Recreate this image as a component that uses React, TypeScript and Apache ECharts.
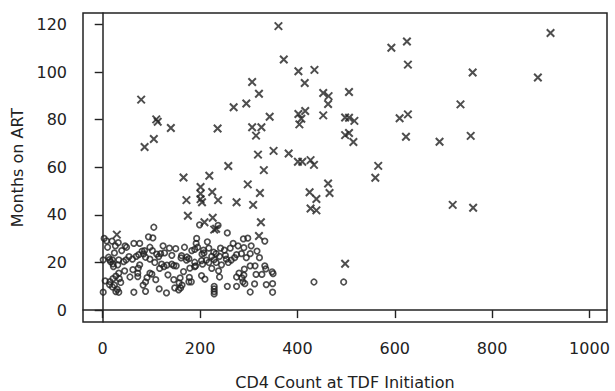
import React, { useEffect, useRef } from "react";
import * as echarts from "echarts";

// Patients with TDF-associated outcome (x markers): [CD4 count, months on ART]
const crossPoints: number[][] = [
  [361, 119.3], [372, 105.3], [402, 100.3], [435, 100.9], [415, 95.4], [307, 95.8],
  [321, 90.9], [79, 88.4], [295, 86.8], [269, 85.2], [453, 91.2], [464, 89.9],
  [463, 86.6], [453, 81.8], [343, 81.2], [110, 80.1], [113, 79.1], [140, 76.5],
  [236, 76.3], [307, 76.8], [326, 76.8], [315, 73.3], [402, 82.4], [416, 83.6],
  [408, 80.4], [404, 78.0], [105, 71.9], [86, 68.5], [319, 65.3], [351, 66.9],
  [382, 65.8], [401, 62.3], [410, 62.3], [427, 63.0], [434, 61.0], [258, 60.5],
  [331, 58.8], [920, 116.4], [593, 110.2], [625, 112.8], [627, 103.1], [760, 99.8],
  [894, 97.7], [506, 91.6], [735, 86.4], [498, 80.9], [506, 80.8], [517, 79.5],
  [610, 80.6], [627, 82.2], [498, 73.5], [506, 74.4], [515, 70.6], [623, 72.8],
  [692, 70.7], [756, 73.2], [566, 60.6], [560, 55.6], [719, 44.2], [761, 43.0],
  [498, 19.5], [166, 55.7], [219, 56.4], [298, 52.8], [463, 53.2], [466, 49.2],
  [425, 49.5], [439, 46.7], [427, 42.7], [439, 41.9], [323, 49.2], [201, 51.7],
  [201, 48.9], [225, 49.6], [172, 46.2], [201, 46.6], [204, 45.3], [237, 46.2],
  [275, 45.3], [309, 44.2], [175, 39.6], [209, 36.9], [226, 38.8], [229, 33.8],
  [233, 34.2], [325, 36.9], [321, 31.1], [29, 31.7],
];

// Other patients (open circles): [CD4 count, months on ART]
const circlePoints: number[][] = [
  [105, 34.8], [3, 30.1], [8, 29.1], [10, 26.4], [32, 28.3], [49, 26.4], [64, 28.0],
  [76, 28.0], [94, 30.8], [103, 30.3], [97, 26.4], [86, 25.0], [124, 27.0], [150, 25.8],
  [168, 26.4], [193, 30.1], [199, 35.8], [192, 28.0], [195, 26.4], [189, 25.5],
  [215, 28.7], [218, 26.0], [207, 25.2], [204, 23.5], [228, 24.3], [233, 23.7],
  [237, 35.6], [256, 32.4], [289, 29.9], [298, 30.2], [333, 29.0], [290, 26.2],
  [250, 25.2], [252, 23.0], [271, 22.0], [275, 23.3], [285, 23.7], [303, 23.7],
  [317, 24.8], [240, 22.6], [254, 21.4], [224, 22.6], [229, 21.2], [213, 21.0],
  [203, 20.8], [205, 19.3], [189, 20.1], [191, 18.6], [173, 22.3], [177, 21.6],
  [172, 21.0], [161, 21.9], [162, 22.9], [151, 18.6], [146, 18.7], [142, 19.3],
  [132, 18.9], [126, 18.3], [117, 17.5], [121, 19.3], [111, 23.5], [115, 22.5],
  [119, 23.7], [127, 24.0], [97, 21.4], [88, 22.2], [84, 23.6], [81, 24.8],
  [74, 23.3], [69, 22.6], [61, 21.4], [54, 22.5], [48, 21.1], [43, 20.4], [33, 21.1],
  [1, 21.1], [12, 22.2], [14, 21.2], [16, 20.4], [21, 19.4], [22, 18.3], [20, 21.1],
  [45, 16.5], [33, 15.5], [27, 14.3], [34, 13.2], [37, 11.6], [21, 13.2], [15, 12.0],
  [14, 10.7], [20, 9.7], [24, 10.5], [30, 8.7], [27, 7.8], [33, 7.5], [5, 12.3],
  [1, 7.5], [56, 13.9], [72, 15.5], [72, 14.1], [73, 17.6], [76, 19.0], [64, 7.5],
  [83, 10.5], [88, 11.8], [91, 13.6], [97, 15.5], [101, 15.1], [88, 7.9], [109, 12.8],
  [116, 8.9], [134, 14.8], [131, 7.2], [146, 12.8], [148, 9.3], [156, 8.5], [157, 11.4],
  [159, 13.5], [166, 16.2], [160, 9.3], [163, 10.5], [178, 13.7], [177, 11.9],
  [182, 11.9], [203, 14.5], [210, 13.0], [224, 17.5], [229, 10.0], [229, 8.9],
  [229, 7.8], [229, 6.8], [238, 16.5], [240, 13.9], [256, 10.0], [275, 13.9],
  [275, 10.0], [280, 15.5], [286, 13.5], [290, 14.7], [291, 17.2], [288, 11.9],
  [292, 11.1], [303, 18.6], [313, 18.6], [303, 7.6], [312, 11.0], [333, 18.6],
  [335, 17.3], [336, 10.7], [349, 11.1], [348, 16.1], [350, 15.3], [349, 7.5],
  [179, 17.6], [189, 18.3], [434, 11.8], [495, 11.8],
  [208, 24], [218, 20], [233, 20], [244, 19], [258, 20], [264, 21], [242, 26],
  [262, 26], [268, 28], [278, 27], [295, 22], [305, 27], [322, 22], [327, 15],
  [315, 15], [183, 25], [142, 23], [137, 26], [107, 20], [102, 25], [62, 17],
  [46, 27], [39, 25], [26, 27], [19, 29], [24, 24], [31, 19],
];

const xTicks = [0, 200, 400, 600, 800, 1000];
const yTicks = [0, 20, 40, 60, 80, 100, 120];
const xTitle = "CD4 Count at TDF Initiation";
const yTitle = "Months on ART";

const INK = "#222";
const FONT = "'DejaVu Sans', 'Liberation Sans', Arial, sans-serif";

export default function App() {
  const ref = useRef<HTMLDivElement>(null);
  useEffect(() => {
    if (!ref.current) return;
    const chart = echarts.init(ref.current, undefined, { renderer: "svg" });
    chart.setOption({
      animation: false,
      backgroundColor: "#fff",
      grid: {
        left: 83,
        right: 8,
        top: 13,
        bottom: 69,
        show: true,
        borderColor: INK,
        borderWidth: 1.5,
        backgroundColor: "transparent",
        containLabel: false,
        outerBoundsMode: "none",
      },
      xAxis: {
        type: "value",
        min: -40.5,
        max: 1036,
        name: xTitle,
        nameLocation: "middle",
        nameGap: 52,
        nameTextStyle: { fontSize: 16, lineHeight: 16, color: INK, fontFamily: FONT },
        axisLine: { show: true, lineStyle: { color: INK, width: 1.5 } },
        axisTick: {
          show: true,
          length: 8,
          customValues: xTicks,
          lineStyle: { color: INK, width: 1.4 },
        },
        axisLabel: {
          customValues: xTicks,
          margin: 18,
          fontSize: 16,
          color: INK,
          fontFamily: FONT,
          formatter: (v: number) => String(v),
        },
        splitLine: { show: false },
      },
      yAxis: {
        type: "value",
        min: -5,
        max: 124.8,
        name: yTitle,
        nameLocation: "middle",
        nameGap: 48,
        nameTextStyle: { fontSize: 16, lineHeight: 16, color: INK, fontFamily: FONT },
        axisLine: { show: true, lineStyle: { color: INK, width: 1.5 } },
        axisTick: {
          show: true,
          length: 8,
          customValues: yTicks,
          lineStyle: { color: INK, width: 1.4 },
        },
        axisLabel: {
          customValues: yTicks,
          margin: 16,
          fontSize: 16,
          color: INK,
          fontFamily: FONT,
          formatter: (v: number) => String(v),
        },
        splitLine: { show: false },
      },
      series: [
        {
          type: "scatter",
          name: "circles",
          data: circlePoints,
          symbol: "circle",
          symbolSize: 5.5,
          itemStyle: { color: "rgba(0,0,0,0)", borderColor: INK, borderWidth: 1.7 },
          silent: true,
        },
        {
          type: "scatter",
          name: "crosses",
          data: crossPoints,
          symbol: "path://M0,0L10,10M10,0L0,10",
          symbolSize: 7.5,
          itemStyle: { color: "rgba(0,0,0,0)", borderColor: INK, borderWidth: 2 },
          silent: true,
        },
      ],
    });
    return () => chart.dispose();
  }, []);
  return <div ref={ref} style={{ width: 615, height: 391, position: "absolute", left: 0, top: 0 }} />;
}
